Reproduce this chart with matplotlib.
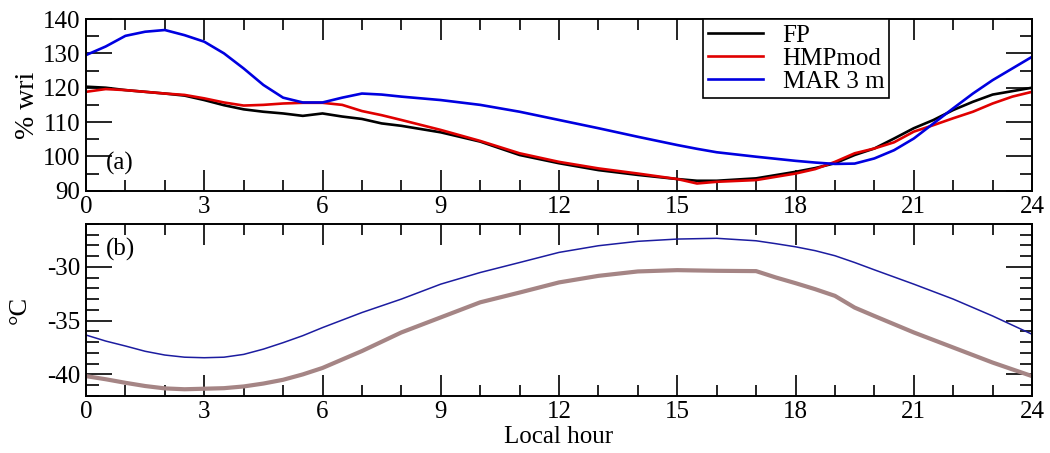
import numpy as np
import matplotlib.pyplot as plt
from matplotlib.ticker import MultipleLocator

plt.rcParams['font.family'] = ['Liberation Serif', 'DejaVu Serif']
plt.rcParams['axes.unicode_minus'] = False

# (a) relative humidity w.r.t. ice, % wri
hours_a = [0, 0.5, 1, 1.5, 2, 2.5, 3, 3.5, 4, 4.5, 5, 5.5, 6, 6.5, 7, 7.5, 8,
           9, 10, 11, 12, 13, 14, 15, 15.5, 16, 17, 18, 18.5, 19, 19.5, 20,
           20.5, 21, 21.5, 22, 22.5, 23, 23.5, 24]
fp = [120.3, 120.0, 119.3, 118.8, 118.3, 117.7, 116.4, 114.9, 113.7, 113.0,
      112.5, 111.8, 112.5, 111.6, 110.9, 109.6, 108.9,
      107.0, 104.3, 100.4, 98.0, 96.0, 94.6, 93.4, 92.9, 92.9, 93.6, 95.5,
      96.6, 98.0, 100.4, 102.3, 105.2, 108.2, 110.6, 113.5, 115.9, 118.0,
      119.0, 120.0]
hmp = [118.8, 119.6, 119.3, 118.8, 118.3, 117.9, 116.9, 115.7, 114.8, 115.0,
       115.4, 115.6, 115.6, 115.0, 113.2, 112.0, 110.6,
       107.7, 104.5, 100.9, 98.4, 96.5, 95.0, 93.4, 92.1, 92.6, 93.1, 95.0,
       96.3, 98.4, 100.9, 102.3, 104.1, 107.2, 109.1, 111.1, 113.0, 115.4,
       117.4, 118.8]
mar = [129.5, 132.0, 135.1, 136.3, 136.8, 135.3, 133.4, 130.0, 125.6, 120.8,
       117.1, 115.7, 115.7, 117.1, 118.3, 118.0, 117.4,
       116.4, 115.0, 113.0, 110.6, 108.2, 105.7, 103.3, 102.2, 101.2, 99.9,
       98.7, 98.2, 97.8, 97.9, 99.4, 101.8, 105.2, 109.6, 114.0, 118.3,
       122.2, 125.6, 129.0]

# (b) temperature, deg C
hours_b = [0, 0.5, 1, 1.5, 2, 2.5, 3, 3.5, 4, 4.5, 5, 5.5, 6, 7, 8, 9, 10,
           11, 12, 13, 14, 15, 16, 17, 17.5, 18, 18.5, 19, 19.5, 20, 21, 22,
           23, 24]
t_obs = [-40.16, -40.45, -40.78, -41.08, -41.3, -41.38, -41.33, -41.28,
         -41.12, -40.85, -40.5, -40.0, -39.4, -37.83,
         -36.1, -34.7, -33.3, -32.39, -31.45, -30.84, -30.43, -30.31, -30.37,
         -30.4, -30.99, -31.52, -32.08, -32.7, -33.79, -34.57, -36.1, -37.5,
         -38.9, -40.16]
t_mar = [-36.34, -36.9, -37.36, -37.85, -38.2, -38.4, -38.45, -38.4,
         -38.14, -37.65, -37.05, -36.4, -35.65, -34.25,
         -33.0, -31.61, -30.53, -29.6, -28.66, -28.04, -27.63, -27.42,
         -27.35, -27.58, -27.85, -28.14, -28.5, -28.97, -29.6, -30.28, -31.61,
         -33.0, -34.57, -36.27]

fig = plt.figure(figsize=(10.5, 4.53), dpi=100)
ax1 = fig.add_axes([0.0819, 0.579, 0.901, 0.379])
ax2 = fig.add_axes([0.0819, 0.126, 0.901, 0.380])

ax1.plot(hours_a, fp, color='black', lw=1.9, label='FP')
ax1.plot(hours_a, hmp, color='#e00000', lw=1.9, label='HMPmod')
ax1.plot(hours_a, mar, color='#0000e0', lw=1.9, label='MAR 3 m')
ax1.set_ylim(90, 140)
ax1.yaxis.set_major_locator(MultipleLocator(10))
ax1.yaxis.set_minor_locator(MultipleLocator(5))
ax1.set_ylabel('% wri', fontsize=20, labelpad=2)
ax1.text(0.021, 0.16, '(a)', transform=ax1.transAxes, fontsize=18,
         va='center', ha='left')
leg = ax1.legend(loc='upper right', bbox_to_anchor=(0.849, 1.0),
                 borderaxespad=0, fontsize=18, handlelength=2.2,
                 labelspacing=0.02, borderpad=0.2, handletextpad=0.8,
                 fancybox=False, framealpha=1)
leg.get_frame().set_edgecolor('black')
leg.get_frame().set_linewidth(1.2)

ax2.plot(hours_b, t_obs, color='#a58585', lw=3.0)
ax2.plot(hours_b, t_mar, color='#1c1ca0', lw=1.1)
ax2.set_ylim(-42, -26)
ax2.yaxis.set_major_locator(MultipleLocator(5))
ax2.yaxis.set_minor_locator(MultipleLocator(1))
ax2.set_ylabel('°C', fontsize=19, labelpad=12)
ax2.set_xlabel('Local hour', fontsize=18, labelpad=2)
ax2.text(0.021, 0.85, '(b)', transform=ax2.transAxes, fontsize=18,
         va='center', ha='left')

for ax in (ax1, ax2):
    ax.set_xlim(0, 24)
    ax.xaxis.set_major_locator(MultipleLocator(3))
    ax.xaxis.set_minor_locator(MultipleLocator(1))
    ax.tick_params(which='both', direction='in', top=True, right=True,
                   labelsize=18, width=1.2, pad=4)
    ax.tick_params(which='major', axis='x', length=15)
    ax.tick_params(which='minor', axis='x', length=8)
    ax.tick_params(which='major', axis='y', length=19)
    ax.tick_params(which='minor', axis='y', length=9)
    for s in ax.spines.values():
        s.set_linewidth(1.4)

fig.savefig('out.png', dpi=100)
